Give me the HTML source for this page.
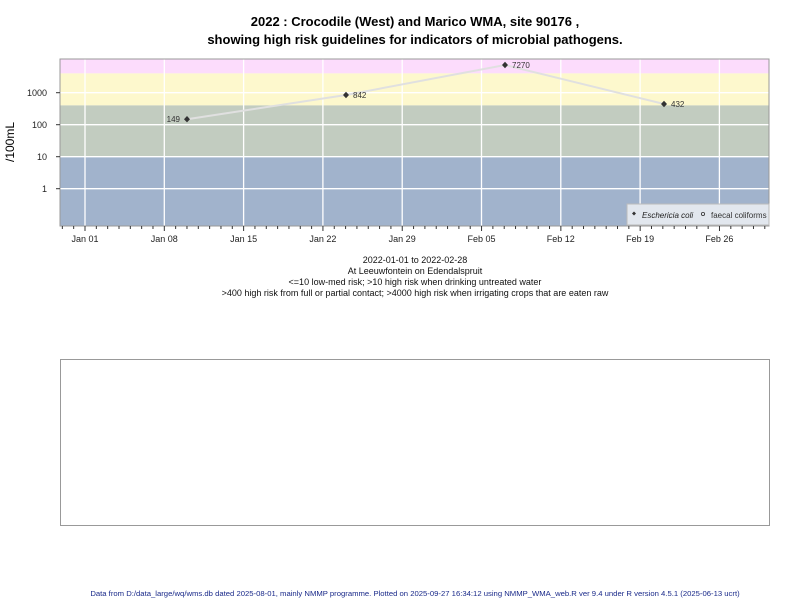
<!DOCTYPE html>
<html><head><style>body{margin:0;background:#fff;}svg{display:block;font-family:"Liberation Sans",Arial,sans-serif;}</style></head><body>
<svg width="800" height="600" viewBox="0 0 800 600">
<text x="415" y="26" text-anchor="middle" font-size="13" font-weight="bold">2022 : Crocodile (West) and Marico WMA, site 90176 ,</text>
<text x="415" y="44" text-anchor="middle" font-size="13" font-weight="bold">showing high risk guidelines for indicators of microbial pathogens.</text>
<rect x="60" y="59" width="709" height="14.4" fill="#fcdcfc"/>
<rect x="60" y="73.4" width="709" height="32" fill="#fdf8cd"/>
<rect x="60" y="105.4" width="709" height="51.3" fill="#c2ccc0"/>
<rect x="60" y="156.7" width="709" height="69.3" fill="#a1b3cc"/>
<g stroke="#fff" stroke-width="1.3">
<line x1="60" x2="769" y1="92.7" y2="92.7"/><line x1="60" x2="769" y1="124.7" y2="124.7"/><line x1="60" x2="769" y1="156.7" y2="156.7"/><line x1="60" x2="769" y1="188.7" y2="188.7"/>
<line x1="85" x2="85" y1="59" y2="226"/><line x1="164.3" x2="164.3" y1="59" y2="226"/><line x1="243.6" x2="243.6" y1="59" y2="226"/><line x1="322.9" x2="322.9" y1="59" y2="226"/><line x1="402.2" x2="402.2" y1="59" y2="226"/><line x1="481.5" x2="481.5" y1="59" y2="226"/><line x1="560.8" x2="560.8" y1="59" y2="226"/><line x1="640.1" x2="640.1" y1="59" y2="226"/><line x1="719.4" x2="719.4" y1="59" y2="226"/>
</g>
<rect x="60" y="59" width="709" height="167" fill="none" stroke="#999" stroke-width="1"/>
<polyline points="187,119.2 346,95 505,65 664,104" fill="none" stroke="#e0e0e0" stroke-width="2"/>
<g fill="#333"><path d="M187 116 l3 3.2 -3 3.2 -3 -3.2z"/><path d="M346 91.8 l3 3.2 -3 3.2 -3 -3.2z"/><path d="M505 61.8 l3 3.2 -3 3.2 -3 -3.2z"/><path d="M664 100.8 l3 3.2 -3 3.2 -3 -3.2z"/></g>
<g font-size="8" fill="#333"><text x="180" y="122" text-anchor="end">149</text><text x="353" y="98">842</text><text x="512" y="68">7270</text><text x="671" y="107">432</text></g>
<rect x="627" y="204" width="142" height="21" fill="#e2e7ee" stroke="#bbb"/>
<path d="M634 211.5 l2 2 -2 2 -2 -2z" fill="#333"/><text x="642" y="218" font-size="8" font-style="italic" fill="#222">Eschericia coli</text>
<circle cx="703" cy="214" r="1.6" fill="none" stroke="#333" stroke-width="0.8"/><text x="711" y="218" font-size="8" fill="#333">faecal coliforms</text>
<g stroke="#333" stroke-width="1"><line x1="56" x2="60" y1="92.7" y2="92.7"/><line x1="56" x2="60" y1="124.7" y2="124.7"/><line x1="56" x2="60" y1="156.7" y2="156.7"/><line x1="56" x2="60" y1="188.7" y2="188.7"/></g>
<g font-size="9" text-anchor="end" fill="#222"><text x="47" y="96">1000</text><text x="47" y="128">100</text><text x="47" y="160">10</text><text x="47" y="192">1</text></g>
<text transform="translate(14,142) rotate(-90)" text-anchor="middle" font-size="12">/100mL</text>
<g stroke="#333" stroke-width="1" id="ticks"></g>
<g font-size="9" text-anchor="middle" fill="#222"><text x="85" y="242">Jan 01</text><text x="164.3" y="242">Jan 08</text><text x="243.6" y="242">Jan 15</text><text x="322.9" y="242">Jan 22</text><text x="402.2" y="242">Jan 29</text><text x="481.5" y="242">Feb 05</text><text x="560.8" y="242">Feb 12</text><text x="640.1" y="242">Feb 19</text><text x="719.4" y="242">Feb 26</text></g>
<g font-size="9" text-anchor="middle" fill="#111"><text x="415" y="263">2022-01-01 to 2022-02-28</text><text x="415" y="274">At Leeuwfontein on Edendalspruit</text><text x="415" y="285">&lt;=10 low-med risk; &gt;10 high risk when drinking untreated water</text><text x="415" y="296">&gt;400 high risk from full or partial contact; &gt;4000 high risk when irrigating crops that are eaten raw</text></g>
<rect x="60.5" y="359.5" width="709" height="166" fill="none" stroke="#999"/>
<text x="415" y="596" text-anchor="middle" font-size="7.7" fill="#1a2a8a">Data from D:/data_large/wq/wms.db dated 2025-08-01, mainly NMMP programme. Plotted on 2025-09-27 16:34:12 using NMMP_WMA_web.R ver 9.4 under R version 4.5.1 (2025-06-13 ucrt)</text>
</svg>
<script>
var g=document.getElementById('ticks'),s='';
for(var i=-2;i<61;i++){var x=85+i*11.33;if(x<60||x>769)continue;var big=(i%7==0);s+='<line x1="'+x+'" x2="'+x+'" y1="226" y2="'+(big?231:229)+'"/>';}
g.innerHTML=s;
</script>
</body></html>
